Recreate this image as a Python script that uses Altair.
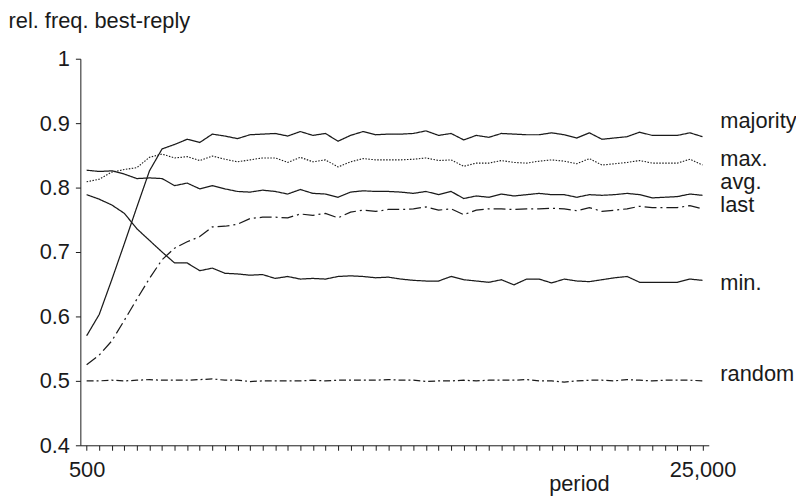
import altair as alt
import pandas as pd

periods = [500 * k for k in range(1, 51)]

majority = [0.570, 0.603, 0.657, 0.713, 0.770, 0.826, 0.860, 0.867, 0.875, 0.870,
            0.883, 0.880, 0.876, 0.882, 0.883, 0.884, 0.880, 0.887, 0.881, 0.884,
            0.872, 0.881, 0.887, 0.882, 0.883, 0.883, 0.884, 0.888, 0.881, 0.884,
            0.874, 0.881, 0.878, 0.884, 0.883, 0.882, 0.882, 0.885, 0.882, 0.877,
            0.885, 0.875, 0.877, 0.879, 0.886, 0.881, 0.881, 0.881, 0.885, 0.879]

max_ = [0.809, 0.813, 0.824, 0.828, 0.831, 0.847, 0.852, 0.846, 0.848, 0.842,
        0.849, 0.844, 0.840, 0.843, 0.846, 0.846, 0.839, 0.847, 0.840, 0.843,
        0.832, 0.840, 0.845, 0.843, 0.843, 0.843, 0.844, 0.846, 0.842, 0.843,
        0.833, 0.838, 0.838, 0.842, 0.839, 0.838, 0.841, 0.843, 0.841, 0.837,
        0.845, 0.835, 0.837, 0.839, 0.842, 0.838, 0.838, 0.838, 0.844, 0.835]

avg = [0.827, 0.825, 0.826, 0.821, 0.814, 0.815, 0.814, 0.803, 0.807, 0.798,
       0.803, 0.798, 0.794, 0.793, 0.796, 0.794, 0.790, 0.797, 0.791, 0.790,
       0.785, 0.793, 0.795, 0.794, 0.794, 0.793, 0.791, 0.794, 0.789, 0.794,
       0.783, 0.787, 0.785, 0.790, 0.787, 0.789, 0.791, 0.789, 0.789, 0.785,
       0.789, 0.788, 0.789, 0.791, 0.789, 0.784, 0.785, 0.786, 0.790, 0.788]

last = [0.525, 0.540, 0.562, 0.594, 0.627, 0.659, 0.688, 0.706, 0.716, 0.724,
        0.739, 0.740, 0.743, 0.752, 0.754, 0.754, 0.753, 0.759, 0.757, 0.760,
        0.753, 0.762, 0.765, 0.763, 0.766, 0.766, 0.767, 0.770, 0.765, 0.767,
        0.758, 0.765, 0.767, 0.767, 0.766, 0.767, 0.767, 0.768, 0.767, 0.764,
        0.769, 0.763, 0.765, 0.767, 0.771, 0.769, 0.769, 0.769, 0.772, 0.767]

min_ = [0.789, 0.782, 0.773, 0.760, 0.736, 0.718, 0.700, 0.683, 0.683, 0.671,
        0.675, 0.667, 0.666, 0.664, 0.665, 0.659, 0.662, 0.658, 0.659, 0.658,
        0.662, 0.663, 0.662, 0.660, 0.661, 0.658, 0.656, 0.655, 0.655, 0.662,
        0.657, 0.655, 0.653, 0.657, 0.649, 0.658, 0.658, 0.652, 0.658, 0.655,
        0.654, 0.657, 0.660, 0.662, 0.653, 0.653, 0.653, 0.653, 0.658, 0.656]

random_ = [0.500, 0.500, 0.501, 0.500, 0.501, 0.502, 0.501, 0.501, 0.501, 0.502,
           0.503, 0.501, 0.501, 0.499, 0.500, 0.500, 0.500, 0.500, 0.501, 0.500,
           0.501, 0.501, 0.501, 0.501, 0.502, 0.501, 0.501, 0.499, 0.500, 0.500,
           0.501, 0.500, 0.501, 0.501, 0.501, 0.502, 0.500, 0.500, 0.498, 0.500,
           0.501, 0.501, 0.500, 0.502, 0.501, 0.500, 0.501, 0.501, 0.501, 0.500]

series_names = ["majority", "max.", "avg.", "last", "min.", "random"]
series_values = [majority, max_, avg, last, min_, random_]
series_dash = [[1, 0], [1.5, 1.5], [1, 0], [12, 4, 2, 4], [1, 0], [7, 3, 2, 3]]
label_y = [0.893, 0.834, 0.798, 0.762, 0.641, 0.500]

FONT = "Liberation Sans"
INK = "#1a1a1a"

x_scale = alt.Scale(domain=[250, 25250], nice=False, zero=False)
y_scale = alt.Scale(domain=[0.4, 1.0], nice=False, zero=False)

x_axis = alt.Axis(
    values=periods,
    labelExpr="(datum.value == 500 || datum.value == 25000) ? format(datum.value, ',') : ''",
    tickSize=5, labelPadding=9, labelOverlap=False, labelFlush=False,
    grid=False, title="period", titleX=503, titleY=46,
    titleAlign="center", titleBaseline="alphabetic",
)
y_axis = alt.Axis(
    values=[0.4, 0.5, 0.6, 0.7, 0.8, 0.9, 1.0],
    labelExpr="datum.value == 1 ? '1' : format(datum.value, '.1f')",
    tickSize=5, labelPadding=6, grid=False,
    title="rel. freq. best-reply", titleAngle=0, titleX=-73, titleY=-31,
    titleAlign="left", titleBaseline="alphabetic",
)

x_enc = alt.X("period:Q", scale=x_scale, axis=x_axis)
y_enc = alt.Y("value:Q", scale=y_scale, axis=y_axis)

layers = []
for name, vals, dash in zip(series_names, series_values, series_dash):
    df = pd.DataFrame({"period": periods, "value": vals, "series": name})
    layers.append(
        alt.Chart(df).mark_line(color=INK, strokeWidth=1.1 if name == "max." else 1.25,
                                strokeDash=dash).encode(x=x_enc, y=y_enc)
    )

labels_df = pd.DataFrame({"name": series_names, "value": label_y,
                          "period": [periods[-1]] * len(series_names)})
labels = alt.Chart(labels_df).mark_text(
    align="left", baseline="alphabetic", dx=18, font=FONT, fontSize=22, color=INK
).encode(x=x_enc, y=y_enc, text="name:N")

chart = alt.layer(*layers, labels).properties(
    width=634, height=390, autosize="none",
    padding={"left": 73, "top": 49, "right": 88, "bottom": 52},
).configure_view(stroke=None).configure_axis(
    labelFont=FONT, labelFontSize=22, labelColor=INK,
    titleFont=FONT, titleFontSize=22, titleFontWeight="normal", titleColor=INK,
    domainColor=INK, tickColor=INK, domainWidth=1, tickWidth=1,
)

chart.save("out.html", embed_options={"renderer": "svg", "actions": False})
